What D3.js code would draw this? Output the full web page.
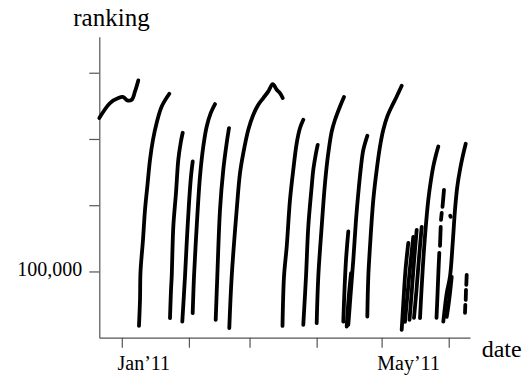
<!DOCTYPE html>
<html>
<head>
<meta charset="utf-8">
<script src="https://cdn.jsdelivr.net/npm/d3@7"></script>
<style>
  html, body { margin: 0; padding: 0; background: #fff; }
  svg { display: block; }
</style>
</head>
<body>
<svg id="chart" width="531" height="376"></svg>
<script>
// Sales ranking readings; each run is a stretch of continuous readings
// as [days since 1 Jan 2011, rank].
const seriesStart = "2011-01-01T00:00:00Z";
const dateExtent = ["2010-12-21T14:38:00Z", "2011-06-10T19:55:00Z"];
const rankExtent = [0, 454400];

const runs = [
  [[-10.39,331600],[-8.22,342600],[-5.45,354200],[-1.62,361800],[0.69,363300],[2.54,358200],[4.57,359200],[6.10,371800],[7.62,388400]],
  [[7.94,17800],[8.41,57100],[8.64,99400],[9.79,147700],[10.72,193100],[11.87,230900],[13.03,268600],[14.41,298800],[16.12,324500],[18.43,349100],[21.94,368300]],
  [[22.26,29500],[22.73,72200],[23.05,91800],[23.79,167400],[25.03,218700],[26.10,268600],[27.21,294300],[28.13,309400]],
  [[27.94,24300],[29.19,92300],[29.98,142800],[31.04,203200],[31.96,243400],[32.75,266000]],
  [[32.75,37000],[33.35,92300],[34.60,167800],[36.12,243400],[37.64,288700],[39.22,318900],[41.06,339100],[43.05,352700]],
  [[43.37,26900],[44.11,92300],[45.36,193100],[46.88,253500],[48.45,293800],[49.52,316500]],
  [[49.65,14400],[50.76,92300],[53.07,193100],[54.60,248500],[56.12,278700],[58.43,313900],[60.74,336600],[63.05,351700],[65.36,361800],[67.67,371800],[69.70,382900],[71.55,374300],[73.07,369300],[74.32,361800]],
  [[74.23,17800],[74.92,92300],[76.17,137600],[77.69,208200],[79.21,253500],[80.79,293800],[82.31,316500],[83.83,329000]],
  [[83.83,19300],[85.08,92300],[86.14,167800],[87.71,228300],[88.45,253500],[89.70,278700],[90.48,291200]],
  [[90.02,21900],[90.76,92300],[92.33,167800],[93.86,233400],[95.38,278700],[96.95,311300],[98.48,329000],[100.79,349100],[102.63,363300]],
  [[102.31,24300],[102.86,72200],[103.56,117500],[104.62,160300]],
  [[103.88,16800],[104.71,57100],[105.87,97400]],
  [[104.62,19300],[105.73,67200],[106.93,117500],[108.18,177900],[109.24,218300],[110.49,258500],[111.55,283500],[113.40,304800]],
  [[113.40,31900],[113.86,92300],[114.64,137600],[116.17,208200],[117.74,253500],[119.26,288700],[120.79,313900],[122.63,334000],[124.67,349100],[126.97,364200],[129.28,380400]],
  [[129.28,11800],[130.12,57100],[131.04,102400],[132.33,143000]],
  [[130.81,23900],[131.73,57100],[133.12,105400],[134.64,152300]],
  [[132.89,26900],[133.81,64700],[134.96,114500],[136.21,162800]],
  [[134.96,29900],[136.12,72200],[137.27,120500],[138.52,167400]],
  [[137.74,29500],[138.43,72200],[139.26,117500],[140.28,162800],[141.57,208200],[142.82,238400],[143.88,258500],[145.13,276200],[146.19,288700]],
  [[145.36,29900],[145.82,64700],[146.28,102400],[146.65,128100]],
  [[146.97,138700],[147.30,167400]],
  [[147.44,177900],[147.76,188500]],
  [[148.13,197600],[148.82,223300]],
  [[151.70,184000],[151.92,182500]],
  [[148.50,24300],[149.28,47000],[150.07,67200],[151.59,92300],[152.84,142800],[153.90,193100],[154.97,228300],[156.21,253500],[157.46,273600],[158.85,292800]],
  [[150.07,31400],[150.90,49500],[151.59,67500],[152.38,91800]],
  [[158.52,37500],[158.66,49500]],
  [[158.85,57100],[158.98,72200]],
  [[159.12,79800],[159.31,94900]]
];

const rankTicks = [100000, 200000, 300000, 400000];
const rankTickLabels = ["100,000", "", "", ""];
const monthTicks = ["2011-01-01", "2011-02-01", "2011-03-01", "2011-04-01", "2011-05-01", "2011-06-01"];
const monthTickLabels = ["Jan\u201911", "", "", "", "May\u201911", ""];

const serif = "'Liberation Serif', 'Times New Roman', Times, serif";
const svg = d3.select("#chart");
const axisColor = "#555";
const DAY = 86400000;
const t0 = new Date(seriesStart).getTime();

const x = d3.scaleUtc()
  .domain(dateExtent.map(d => new Date(d)))
  .range([99.3, 470]);
const y = d3.scaleLinear()
  .domain(rankExtent)
  .range([337.7, 36.7]);

// y axis
const gy = svg.append("g")
  .attr("transform", "translate(99.3,0)")
  .call(d3.axisLeft(y)
    .tickValues(rankTicks)
    .tickFormat((d, i) => rankTickLabels[i])
    .tickSize(10)
    .tickSizeOuter(0)
    .tickPadding(7));
gy.attr("font-family", serif).attr("font-size", 20);
gy.selectAll("path, line").attr("stroke", axisColor).attr("stroke-width", 1.2);
gy.selectAll("text").attr("dy", "0.2em").attr("fill", "#000");

// x axis
const gx = svg.append("g")
  .attr("transform", "translate(0,337.7)")
  .call(d3.axisBottom(x)
    .tickValues(monthTicks.map(d => new Date(d + "T00:00:00Z")))
    .tickFormat((d, i) => monthTickLabels[i])
    .tickSize(10)
    .tickSizeOuter(0)
    .tickPadding(8));
gx.attr("font-family", serif).attr("font-size", 20);
gx.selectAll("path, line").attr("stroke", axisColor).attr("stroke-width", 1.2);
gx.selectAll("text")
  .attr("text-anchor", "start")
  .attr("dx", -4.8)
  .attr("fill", "#000");

// axis titles
svg.append("text")
  .attr("x", 73.3).attr("y", 26)
  .attr("font-family", serif)
  .attr("font-size", 25)
  .text("ranking");
svg.append("text")
  .attr("x", 481.7).attr("y", 357.3)
  .attr("font-family", serif)
  .attr("font-size", 24)
  .text("date");

// ranking runs
const line = d3.line()
  .x(d => x(new Date(t0 + d[0] * DAY)))
  .y(d => y(d[1]))
  .curve(d3.curveCatmullRom.alpha(0.5));

svg.append("g")
  .selectAll("path")
  .data(runs)
  .join("path")
  .attr("d", line)
  .attr("fill", "none")
  .attr("stroke", "#000")
  .attr("stroke-width", 3.8)
  .attr("stroke-linecap", "round")
  .attr("stroke-linejoin", "round");
</script>
</body>
</html>
